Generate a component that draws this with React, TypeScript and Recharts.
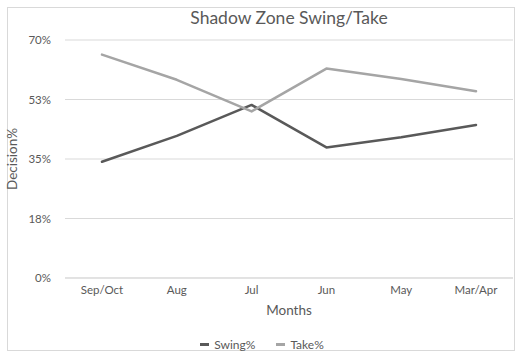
import React from 'react';
import { LineChart, Line, XAxis, YAxis, CartesianGrid, Legend } from 'recharts';

const months = ['Sep/Oct', 'Aug', 'Jul', 'Jun', 'May', 'Mar/Apr'];
const swing = [34.2, 41.8, 50.9, 38.4, 41.4, 45.0];
const take = [65.7, 58.3, 49.0, 61.6, 58.5, 54.9];
const yTicks = [0, 17.5, 35, 52.5, 70];

const SWING_COLOR = '#595959';
const TAKE_COLOR = '#a5a5a5';
const TEXT = '#595959';
const FONT = 'Lato, "Open Sans", sans-serif';

const data = months.map((m, i) => ({ month: m, swing: swing[i], take: take[i] }));

const legendItems = [
  { label: 'Swing%', color: SWING_COLOR },
  { label: 'Take%', color: TAKE_COLOR },
];

const renderLegend = () => (
  <div style={{ display: 'flex', justifyContent: 'center', alignItems: 'center', fontFamily: FONT, fontSize: 12, color: TEXT, height: 15 }}>
    {legendItems.map((it, i) => (
      <div key={it.label} style={{ display: 'flex', alignItems: 'center', marginLeft: i === 0 ? 0 : 21 }}>
        <span style={{ display: 'inline-block', width: 9, height: 3, background: it.color, marginRight: 5 }} />
        <span>{it.label}</span>
      </div>
    ))}
  </div>
);

export default function App() {
  return (
    <div style={{ position: 'fixed', left: 0, top: 0, width: 524, height: 363, background: '#fff' }}>
      <div
        style={{
          position: 'absolute',
          left: 7,
          top: 7,
          width: 508,
          height: 344,
          border: '1px solid #d9d9d9',
          boxSizing: 'border-box',
        }}
      />
      <div
        style={{
          position: 'absolute',
          left: 189,
          width: 200,
          top: 6,
          textAlign: 'center',
          fontFamily: FONT,
          fontSize: 17.5,
          color: TEXT,
          whiteSpace: 'nowrap',
          lineHeight: '24px',
        }}
      >
        Shadow Zone Swing/Take
      </div>
      <div style={{ position: 'absolute', left: 0, top: 0 }}>
        <LineChart
          width={524}
          height={363}
          data={data}
          margin={{ top: 40, right: 11, bottom: 15, left: 0 }}
        >
          <CartesianGrid horizontal vertical={false} stroke="#d9d9d9" />
          <XAxis
            dataKey="month"
            height={55}
            padding={{ left: 37, right: 37 }}
            tickSize={0}
            tickMargin={8}
            axisLine={{ stroke: '#d9d9d9' }}
            tick={{ fill: TEXT, fontSize: 11.5, fontFamily: FONT }}
            label={{
              value: 'Months',
              position: 'insideBottom',
              offset: 18,
              style: { fill: TEXT, fontSize: 13.5, fontFamily: FONT },
            }}
          />
          <YAxis
            width={65}
            domain={[0, 70]}
            ticks={yTicks}
            tickFormatter={(v: number) => `${Math.round(v)}%`}
            tickSize={0}
            tickMargin={14}
            axisLine={false}
            tick={{ fill: TEXT, fontSize: 11.5, fontFamily: FONT }}
            label={{
              value: 'Decision%',
              angle: -90,
              position: 'insideLeft',
              offset: 12,
              style: { fill: TEXT, fontSize: 13.5, fontFamily: FONT, textAnchor: 'middle' },
            }}
          />
          <Legend
            verticalAlign="bottom"
            content={renderLegend}
            wrapperStyle={{ bottom: 11, left: 0, width: 524 }}
          />
          <Line
            type="linear"
            dataKey="swing"
            name="Swing%"
            stroke={SWING_COLOR}
            strokeWidth={2.5}
            dot={false}
            activeDot={false}
            strokeLinejoin="round"
            strokeLinecap="round"
            isAnimationActive={false}
          />
          <Line
            type="linear"
            dataKey="take"
            name="Take%"
            stroke={TAKE_COLOR}
            strokeWidth={2.5}
            dot={false}
            activeDot={false}
            strokeLinejoin="round"
            strokeLinecap="round"
            isAnimationActive={false}
          />
        </LineChart>
      </div>
    </div>
  );
}
